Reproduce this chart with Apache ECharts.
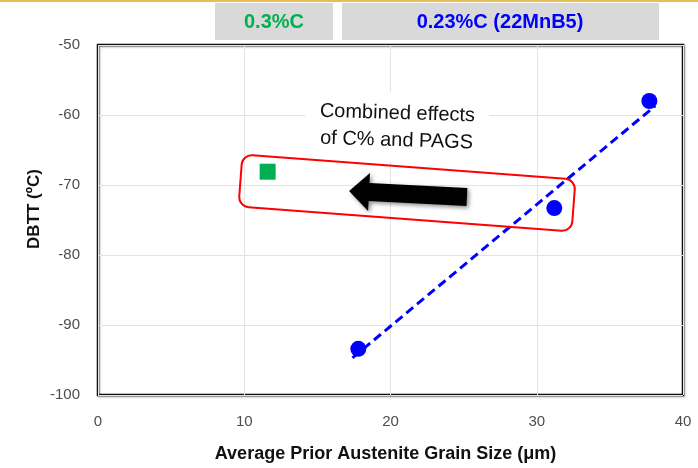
<!DOCTYPE html>
<html>
<head>
<meta charset="utf-8">
<script src="https://cdn.jsdelivr.net/npm/echarts@6/dist/echarts.min.js"></script>
<style>html,body{margin:0;padding:0;background:#fff}#c{width:698px;height:468px}</style>
</head>
<body>
<div id="c"></div>
<script>
// ---- data ----
const blueX = [17.8, 31.2, 37.7];
const blueY = [-93.4, -73.3, -58.0];
const greenX = [11.6];
const greenY = [-68.1];
const trendX = [17.4, 38.1];
const trendY = [-94.7, -58.7];
const xTicks = [0, 10, 20, 30, 40];
const yTicks = [-100, -90, -80, -70, -60, -50];
const headerLabels = ['0.3%C', '0.23%C (22MnB5)'];
const noteLines = ['Combined effects', 'of C% and PAGS'];
const xTitle = 'Average Prior Austenite Grain Size (\u03bcm)';
const yTitle = 'DBTT (\u00baC)';

const zip = (xs, ys) => xs.map((x, i) => [x, ys[i]]);
const FONT = '"Liberation Sans", Arial, sans-serif';

const chart = echarts.init(document.getElementById('c'), null, {renderer: 'canvas'});
chart.setOption({
  backgroundColor: '#fff',
  animation: false,
  grid: {left: 98, right: 15, top: 45, bottom: 72, show: true, borderColor: '#111', borderWidth: 2.5,
         shadowColor: 'rgba(0,0,0,0.3)', shadowBlur: 2, shadowOffsetX: 1, shadowOffsetY: 1},
  xAxis: {
    type: 'value', min: xTicks[0], max: xTicks[xTicks.length - 1], interval: 10,
    axisLine: {show: false}, axisTick: {show: false},
    splitLine: {show: true, lineStyle: {color: '#e3e3e3', width: 1}},
    axisLabel: {color: '#4d4d4d', fontSize: 15, fontFamily: FONT, margin: 19},
    name: xTitle, nameLocation: 'middle', nameGap: 50,
    nameTextStyle: {fontSize: 18, fontWeight: 'bold', color: '#111', fontFamily: FONT, padding: [0, 10, 0, 0]}
  },
  yAxis: {
    type: 'value', min: yTicks[0], max: yTicks[yTicks.length - 1], interval: 10,
    axisLine: {show: false}, axisTick: {show: false},
    splitLine: {show: true, lineStyle: {color: '#e3e3e3', width: 1}},
    axisLabel: {color: '#4d4d4d', fontSize: 15, fontFamily: FONT, margin: 18},
    name: yTitle, nameLocation: 'middle', nameGap: 55, nameRotate: 90, nameMoveOverlap: false,
    nameTextStyle: {fontSize: 17, fontWeight: 'bold', color: '#111', fontFamily: FONT, padding: [0, 0, 0, 22]}
  },
  series: [
    {type: 'line', data: zip(trendX, trendY), symbol: 'none', z: 2,
     lineStyle: {color: '#0000ff', width: 3, type: [9, 5]}},
    {type: 'scatter', data: zip(blueX, blueY), symbol: 'circle', symbolSize: 16, z: 3,
     itemStyle: {color: '#0000ff', opacity: 1}},
    {type: 'scatter', data: zip(greenX, greenY), symbol: 'rect', symbolSize: 16, z: 3,
     itemStyle: {color: '#00b050', opacity: 1}}
  ],
  graphic: [
    {type: 'rect', shape: {x: 0, y: 0, width: 698, height: 2}, style: {fill: '#e8bd55'}, z: 10},
    {type: 'rect', shape: {x: 215, y: 3, width: 118, height: 37}, style: {fill: '#d9d9d9'}, z: 10},
    {type: 'rect', shape: {x: 342, y: 3, width: 317, height: 37}, style: {fill: '#d9d9d9'}, z: 10},
    {type: 'text', x: 274, y: 22, z: 11,
     style: {text: headerLabels[0], fill: '#00b050', font: 'bold 20px ' + FONT, textAlign: 'center', textVerticalAlign: 'middle'}},
    {type: 'text', x: 500, y: 22, z: 11,
     style: {text: headerLabels[1], fill: '#0000ff', font: 'bold 20px ' + FONT, textAlign: 'center', textVerticalAlign: 'middle'}},
    {type: 'text', x: 397, y: 127, rotation: -0.03, z: 11,
     style: {text: noteLines.join('\n'), fill: '#111', font: '20px ' + FONT, lineHeight: 27,
             textAlign: 'center', textVerticalAlign: 'middle', backgroundColor: '#fff', padding: [8, 14]}},
    {type: 'rect', x: 407, y: 193, rotation: -0.075, z: 12,
     shape: {x: -167, y: -26, width: 334, height: 52, r: 10},
     style: {fill: 'none', stroke: '#ff0000', lineWidth: 2}},
    {type: 'polygon', x: 408, y: 194, rotation: -0.05, z: 12,
     shape: {points: [[-59, 0], [-39, -19], [-39, -9], [59, -9], [59, 9], [-39, 9], [-39, 19]]},
     style: {fill: '#000', shadowColor: 'rgba(0,0,0,0.45)', shadowBlur: 4, shadowOffsetX: 2, shadowOffsetY: 2}}
  ]
});
</script>
</body>
</html>
